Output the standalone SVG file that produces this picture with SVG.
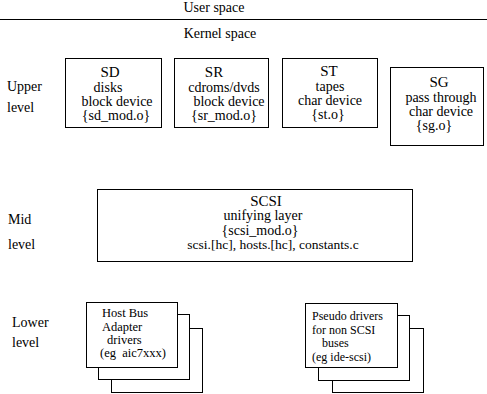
<svg xmlns="http://www.w3.org/2000/svg" width="487" height="394" viewBox="0 0 487 394">
<style>
text{font-family:Liberation Serif, Tinos, DejaVu Serif, Times New Roman, serif;font-size:14px;fill:#000}
.c{text-anchor:middle}
.t{font-size:15px}
.s{font-size:12.5px}
.p{font-size:12px}
.box{fill:#fff;stroke:#000;stroke-width:1}
.pre{white-space:pre}
</style>
<rect width="487" height="394" fill="#fff"/>
<g id="divider">
<line x1="0" y1="19.5" x2="487" y2="19.5" stroke="#000" stroke-width="1"/>
<text class="c" x="214" y="12">User space</text>
<text class="c" x="220" y="38">Kernel space</text>
</g>
<g id="level-labels">
<text x="7" y="91">Upper</text>
<text x="7" y="112">level</text>
<text x="8" y="224">Mid</text>
<text x="8" y="249">level</text>
<text x="12" y="327">Lower</text>
<text x="12" y="347">level</text>
</g>
<g id="sd">
<rect class="box" x="65.5" y="58.5" width="96" height="69"/>
<text class="c t" x="110" y="77">SD</text>
<text class="c" x="108" y="92">disks</text>
<text class="c" x="117" y="106">block device</text>
<text class="c" x="116" y="120">{sd_mod.o}</text>
</g>
<g id="sr">
<rect class="box" x="174.5" y="58.5" width="94" height="69"/>
<text class="c t" x="214" y="77">SR</text>
<text class="c" x="224" y="92">cdroms/dvds</text>
<text class="c" x="229" y="106">block device</text>
<text class="c" x="224" y="120">{sr_mod.o}</text>
</g>
<g id="st">
<rect class="box" x="282.5" y="58.5" width="95" height="69"/>
<text class="c t" x="329" y="76">ST</text>
<text class="c" x="330" y="91">tapes</text>
<text class="c" x="330" y="105">char device</text>
<text class="c" x="328" y="119">{st.o}</text>
</g>
<g id="sg">
<rect class="box" x="390.5" y="67.5" width="93" height="78"/>
<text class="c t" x="439" y="87">SG</text>
<text class="c" x="441" y="102">pass through</text>
<text class="c" x="441" y="116">char device</text>
<text class="c" x="434" y="130">{sg.o}</text>
</g>
<g id="scsi">
<rect class="box" x="97.5" y="189.5" width="315" height="72"/>
<text class="c t" x="266" y="206">SCSI</text>
<text class="c" x="263" y="220">unifying layer</text>
<text class="c" x="260" y="235">{scsi_mod.o}</text>
<text class="c" x="273" y="249" style="font-size:13.5px">scsi.[hc], hosts.[hc], constants.c</text>
</g>
<g id="hba">
<rect class="box" x="111.5" y="328.5" width="91" height="64"/>
<rect class="box" x="98.5" y="314.5" width="91" height="65"/>
<rect class="box" x="86.5" y="302.5" width="91" height="65"/>
<text class="s" x="102" y="317">Host Bus</text>
<text class="s" x="102" y="331">Adapter</text>
<text class="s" x="107" y="344">drivers</text>
<text class="s pre" x="100" y="357">(eg  aic7xxx)</text>
</g>
<g id="pseudo">
<rect class="box" x="332.5" y="328.5" width="91" height="64"/>
<rect class="box" x="318.5" y="315.5" width="91" height="65"/>
<rect class="box" x="305.5" y="303.5" width="92" height="64"/>
<text class="p" x="312" y="320">Pseudo drivers</text>
<text class="p" x="312" y="333.5">for non SCSI</text>
<text class="p" x="322" y="347">buses</text>
<text class="p" x="312" y="360.5">(eg ide-scsi)</text>
</g>
<g id="connectors"></g>
</svg>
